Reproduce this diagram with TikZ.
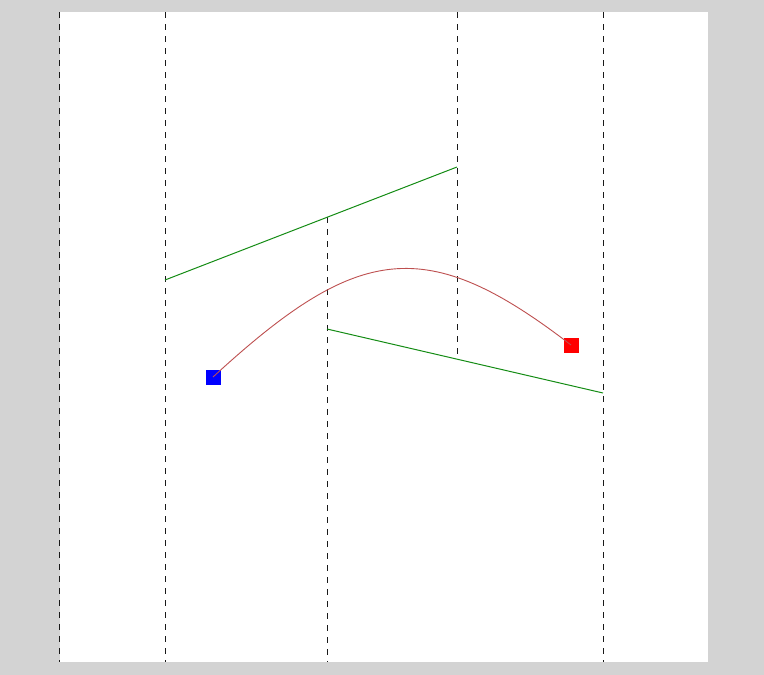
\documentclass[tikz,border=0pt]{standalone}
\usetikzlibrary{calc}
\begin{document}
\begin{tikzpicture}[x=1pt,y=-1pt,
  guide/.style={draw=black!90,line width=1pt,dash pattern=on 6pt off 6pt},
  seg/.style={draw={rgb,255:red,20;green,140;blue,20},line width=1pt},
  curve/.style={draw={rgb,255:red,190;green,80;blue,80},line width=0.9pt},
  sq/.style={rectangle,minimum size=15pt,inner sep=0pt,draw=none}]
\useasboundingbox (0,0) rectangle (764,675);
\fill[color={rgb,255:red,211;green,211;blue,211}] (0,0) rectangle (764,675);
\fill[white] (60,12) rectangle (708,662);
% coordinates
\coordinate (a1) at (59,12);  \coordinate (a2) at (59,662);
\coordinate (b1) at (165,12); \coordinate (b2) at (165,662);
\coordinate (c1) at (457,12);
\coordinate (d2) at (327,662);
\coordinate (e1) at (603,12); \coordinate (e2) at (603,662);
\coordinate (u1) at (165,280); \coordinate (u2) at (457,167);
\coordinate (l1) at (327,329); \coordinate (l2) at (603,393);
\coordinate (cx) at ($(l1)!0.471!(l2)$);
\coordinate (dx) at ($(u1)!0.555!(u2)$);
\coordinate (c2) at (c1 |- cx);
\coordinate (d1) at (d2 |- dx);
% dashed guides
\draw[guide] (a1) -- (a2);
\draw[guide] (b1) -- (b2);
\draw[guide] (c1) -- (c2);
\draw[guide] (d1) -- (d2);
\draw[guide] (e1) -- (e2);
% green segments
\draw[seg] (u1) -- (u2);
\draw[seg] (l1) -- (l2);
% squares
\node[sq,fill=blue] (bs) at (213,377) {};
\node[sq,fill=red] (rs) at (571,345) {};
% curve
\draw[curve] (bs.center) .. controls (358,243.6) and (426,233.35) .. (rs.center);
\end{tikzpicture}
\end{document}
